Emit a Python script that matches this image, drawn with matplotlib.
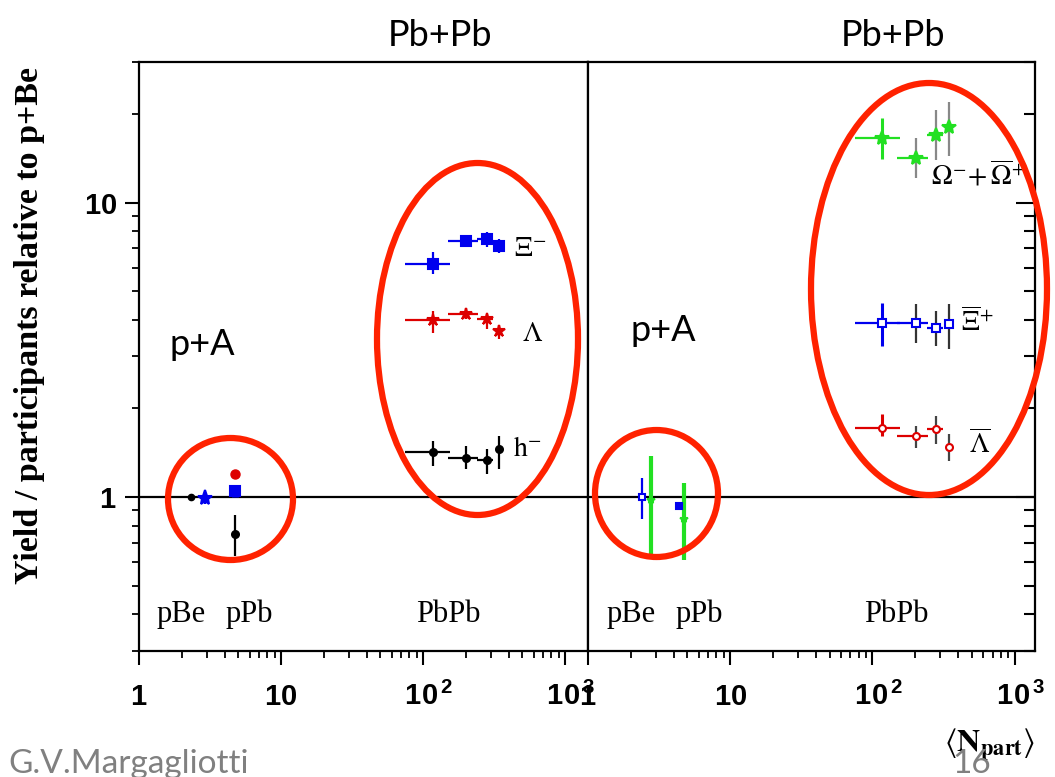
import matplotlib.pyplot as plt
import numpy as np
from matplotlib.patches import Ellipse
from matplotlib.ticker import FixedLocator, LogLocator, NullFormatter

plt.rcParams['mathtext.fontset'] = 'custom'
plt.rcParams['mathtext.rm'] = 'Liberation Sans:bold'
plt.rcParams['mathtext.bf'] = 'Liberation Sans:bold'
plt.rcParams['mathtext.it'] = 'Liberation Sans:bold:italic'

# Pb+Pb centrality classes, <N_part> and its range
npart = np.array([117, 201, 282, 343])
npart_lo = np.array([75, 150, 240, 343])
npart_hi = np.array([155, 244, 311, 343])

# left panel (hyperons), Pb+Pb
xi_m = np.array([6.2, 7.4, 7.5, 7.1])
xi_m_lo = np.array([5.74, 7.18, 7.04, 6.72])
xi_m_hi = np.array([6.77, 7.6, 7.91, 7.54])
lam = np.array([4.0, 4.19, 4.03, 3.67])
lam_lo = np.array([3.61, 4.03, 3.73, 3.45])
lam_hi = np.array([4.29, 4.4, 4.19, 3.85])
h_m = np.array([1.42, 1.36, 1.34, 1.46])
h_m_lo = np.array([1.27, 1.245, 1.2, 1.245])
h_m_hi = np.array([1.55, 1.49, 1.46, 1.61])

# right panel (anti-hyperons), Pb+Pb
omega = np.array([16.6, 14.2, 17.0, 18.1])
omega_lo = np.array([14.1, 12.1, 13.9, 14.4])
omega_hi = np.array([19.3, 16.6, 20.6, 21.9])
xi_p = np.array([3.91, 3.91, 3.76, 3.88])
xi_p_lo = np.array([3.26, 3.34, 3.26, 3.19])
xi_p_hi = np.array([4.57, 4.53, 4.29, 4.53])
alam = np.array([1.72, 1.61, 1.70, 1.48])
alam_lo = np.array([1.61, 1.47, 1.51, 1.33])
alam_hi = np.array([1.92, 1.74, 1.89, 1.64])

# p+A points: (npart, value, low, high)
pa_left_h_pbe = (2.32, 1.0)
pa_left_xi_pbe = (2.92, 0.99, 0.95, 1.03)
pa_left_xi_ppb = (4.74, 1.05, 1.0, 1.1)
pa_left_lam_ppb = (4.74, 1.2)
pa_left_h_ppb = (4.74, 0.75, 0.63, 0.87)
pa_right_xi_pbe = (2.40, 1.0, 0.84, 1.16)
pa_right_om_pbe = (2.78, 0.98, 0.62, 1.38)
pa_right_xi_ppb = (4.37, 0.93, 0.9, 0.96)
pa_right_om_ppb = (4.74, 0.84, 0.61, 1.12)

decade_ticks = [1, 10, 100, 1000]
decade_labels = [r'$1$', r'$10$', r'$\hspace{0.5}10^{\,2}$', r'$\hspace{0.5}10^{\,3}$']

BLUE = '#0000ee'
RED = '#dd0000'
GREEN = '#22e022'
RING = '#ff2200'
W, H = 1055, 777

fig = plt.figure(figsize=(W / 100, H / 100), dpi=100)
axL = fig.add_axes([139 / W, 126 / H, 449 / W, 589 / H])
axR = fig.add_axes([588 / W, 126 / H, 447 / W, 589 / H])


def errs(v, lo, hi):
    return [np.asarray(v) - np.asarray(lo), np.asarray(hi) - np.asarray(v)]


def series(ax, y, lo, hi, color, marker, ms, mfc=None, gray=None):
    xe = errs(npart, npart_lo, npart_hi)
    mfc = color if mfc is None else mfc
    if gray is None:
        ax.errorbar(npart, y, yerr=errs(y, lo, hi), xerr=xe, fmt=marker, color=color,
                    ms=ms, mfc=mfc, mew=1.5, elinewidth=1.6, capsize=0, zorder=3)
    else:
        # first point error in colour, the others grey
        ax.errorbar(npart[1:], y[1:], yerr=errs(y[1:], lo[1:], hi[1:]), fmt='none',
                    ecolor=gray, elinewidth=1.6, capsize=0, zorder=2)
        ax.errorbar(npart[:1], y[:1], yerr=errs(y[:1], lo[:1], hi[:1]), fmt='none',
                    ecolor=color, elinewidth=2.2, capsize=0, zorder=2)
        ax.errorbar(npart, y, xerr=xe, fmt=marker, color=color, ms=ms, mfc=mfc,
                    mew=1.5, elinewidth=1.6, capsize=0, zorder=3)


def point(ax, p, color, marker, ms, mfc=None, lw=1.6):
    mfc = color if mfc is None else mfc
    if len(p) == 4:
        ax.errorbar([p[0]], [p[1]], yerr=[[p[1] - p[2]], [p[3] - p[1]]], fmt=marker,
                    color=color, ms=ms, mfc=mfc, mew=1.5, elinewidth=lw, capsize=0, zorder=3)
    else:
        ax.plot([p[0]], [p[1]], marker, color=color, ms=ms, mfc=mfc, zorder=3)


# left panel
series(axL, xi_m, xi_m_lo, xi_m_hi, BLUE, 's', 7)
series(axL, lam, lam_lo, lam_hi, RED, '*', 9)
series(axL, h_m, h_m_lo, h_m_hi, 'black', 'o', 5)
point(axL, pa_left_h_pbe, 'black', 'o', 4.5)
point(axL, pa_left_xi_pbe, BLUE, '*', 11)
point(axL, pa_left_xi_ppb, BLUE, 's', 7, lw=5)
point(axL, pa_left_lam_ppb, RED, 'o', 6.5)
point(axL, pa_left_h_ppb, 'black', 'o', 5)

# right panel
series(axR, omega, omega_lo, omega_hi, GREEN, '*', 10, gray='#888888')
series(axR, xi_p, xi_p_lo, xi_p_hi, BLUE, 's', 6, mfc='white', gray='#333333')
series(axR, alam, alam_lo, alam_hi, RED, 'o', 5, mfc='white', gray='#444444')
point(axR, pa_right_om_pbe, GREEN, '*', 6, lw=3)
point(axR, pa_right_xi_pbe, BLUE, 's', 5, mfc='white')
point(axR, pa_right_om_ppb, GREEN, '*', 6, lw=3)
point(axR, pa_right_xi_ppb, BLUE, 's', 5)

for ax, xmax in ((axL, 1450), (axR, 1390)):
    ax.set_xscale('log')
    ax.set_yscale('log')
    ax.set_xlim(1, xmax)
    ax.set_ylim(0.3, 30)
    ax.axhline(1, color='black', lw=1.6, zorder=1)
    for s in ax.spines.values():
        s.set_linewidth(1.6)
    ax.xaxis.set_major_locator(FixedLocator(decade_ticks))
    ax.xaxis.set_minor_locator(LogLocator(base=10, subs=np.arange(2, 10), numticks=50))
    ax.xaxis.set_minor_formatter(NullFormatter())
    ax.set_xticklabels(decade_labels)
    ax.yaxis.set_major_locator(FixedLocator([1, 10]))
    ax.yaxis.set_minor_locator(LogLocator(base=10, subs=np.arange(2, 10), numticks=50))
    ax.yaxis.set_minor_formatter(NullFormatter())
    ax.tick_params(axis='x', which='major', direction='out', length=10, width=1.5,
                   labelsize=21, pad=29, top=False)
    ax.tick_params(axis='x', which='minor', direction='out', length=5, width=1.3, top=False)
    for lab in ax.get_xticklabels():
        lab.set_va('baseline')

axL.set_yticklabels([r'$1$', r'$10$'])
axL.tick_params(axis='y', which='major', direction='out', length=10, width=1.5,
                labelsize=21, pad=6, right=False)
axL.tick_params(axis='y', which='minor', direction='out', length=5, width=1.3, right=False)
axR.tick_params(axis='y', which='both', direction='in', left=False, right=True,
                labelleft=False, width=1.5)
axR.tick_params(axis='y', which='major', length=14)
axR.tick_params(axis='y', which='minor', length=8)

# text inside panels
serif = dict(fontfamily='Liberation Serif', fontsize=22, ha='center', va='center')
for ax, xs in ((axL, (1.98, 5.95, 150)), (axR, (2.01, 6.05, 148))):
    for x, t in zip(xs, ('pBe', 'pPb', 'PbPb')):
        ax.text(x, 0.40, t, **serif)

mt = dict(math_fontfamily='stix', fontsize=20, ha='center', va='center')
axL.text(567, 7.0, r'$\Xi^{-}$', **mt)
axL.text(586, 3.61, r'$\Lambda$', **mt)
axL.text(545, 1.47, r'$\mathrm{h}^{-}$', **mt)
axR.text(560, 12.4, r'$\Omega^{-}\!+\overline{\Omega}^{+}$', **mt)
axR.text(545, 3.91, r'$\overline{\Xi}^{+}$', **mt)
axR.text(567, 1.51, r'$\overline{\Lambda}$', **mt)

sans = dict(fontfamily='Lato', fontsize=26, ha='center', va='center')
axL.text(2.78, 3.29, 'p+A', **sans)
axR.text(3.37, 3.67, 'p+A', **sans)
fig.text(440 / W, 1 - 35 / H, 'Pb+Pb', **sans)
fig.text(893 / W, 1 - 35 / H, 'Pb+Pb', **sans)

fig.text(30 / W, 1 - 325 / H, 'Yield / participants relative to p+Be', rotation=90,
         fontfamily='Liberation Serif', fontweight='bold', fontsize=24.5,
         ha='center', va='center')
fig.text(990 / W, 1 - 745 / H, r'$\langle\mathbf{N}_{\mathbf{part}}\rangle$',
         math_fontfamily='stix', fontsize=23, ha='center', va='center')

fig.text(8 / W, 1 - 764 / H, 'G.V.Margagliotti', color='#808080', fontfamily='Lato',
         fontsize=24, ha='left', va='center')
fig.text(972 / W, 1 - 764 / H, '16', color='#808080', fontfamily='Lato',
         fontsize=24, ha='center', va='center')

# red rings (figure pixels: centre x, centre y, width, height)
rings = [(230.5, 499, 125, 122), (477.5, 339, 201, 352),
         (656.5, 493.5, 123, 127), (929, 289, 236, 412)]
for cx, cy, w, h in rings:
    fig.add_artist(Ellipse((cx / W, 1 - cy / H), w / W, h / H, transform=fig.transFigure,
                           fill=False, ec=RING, lw=4.5, zorder=10))

fig.savefig('out.png', dpi=100)
